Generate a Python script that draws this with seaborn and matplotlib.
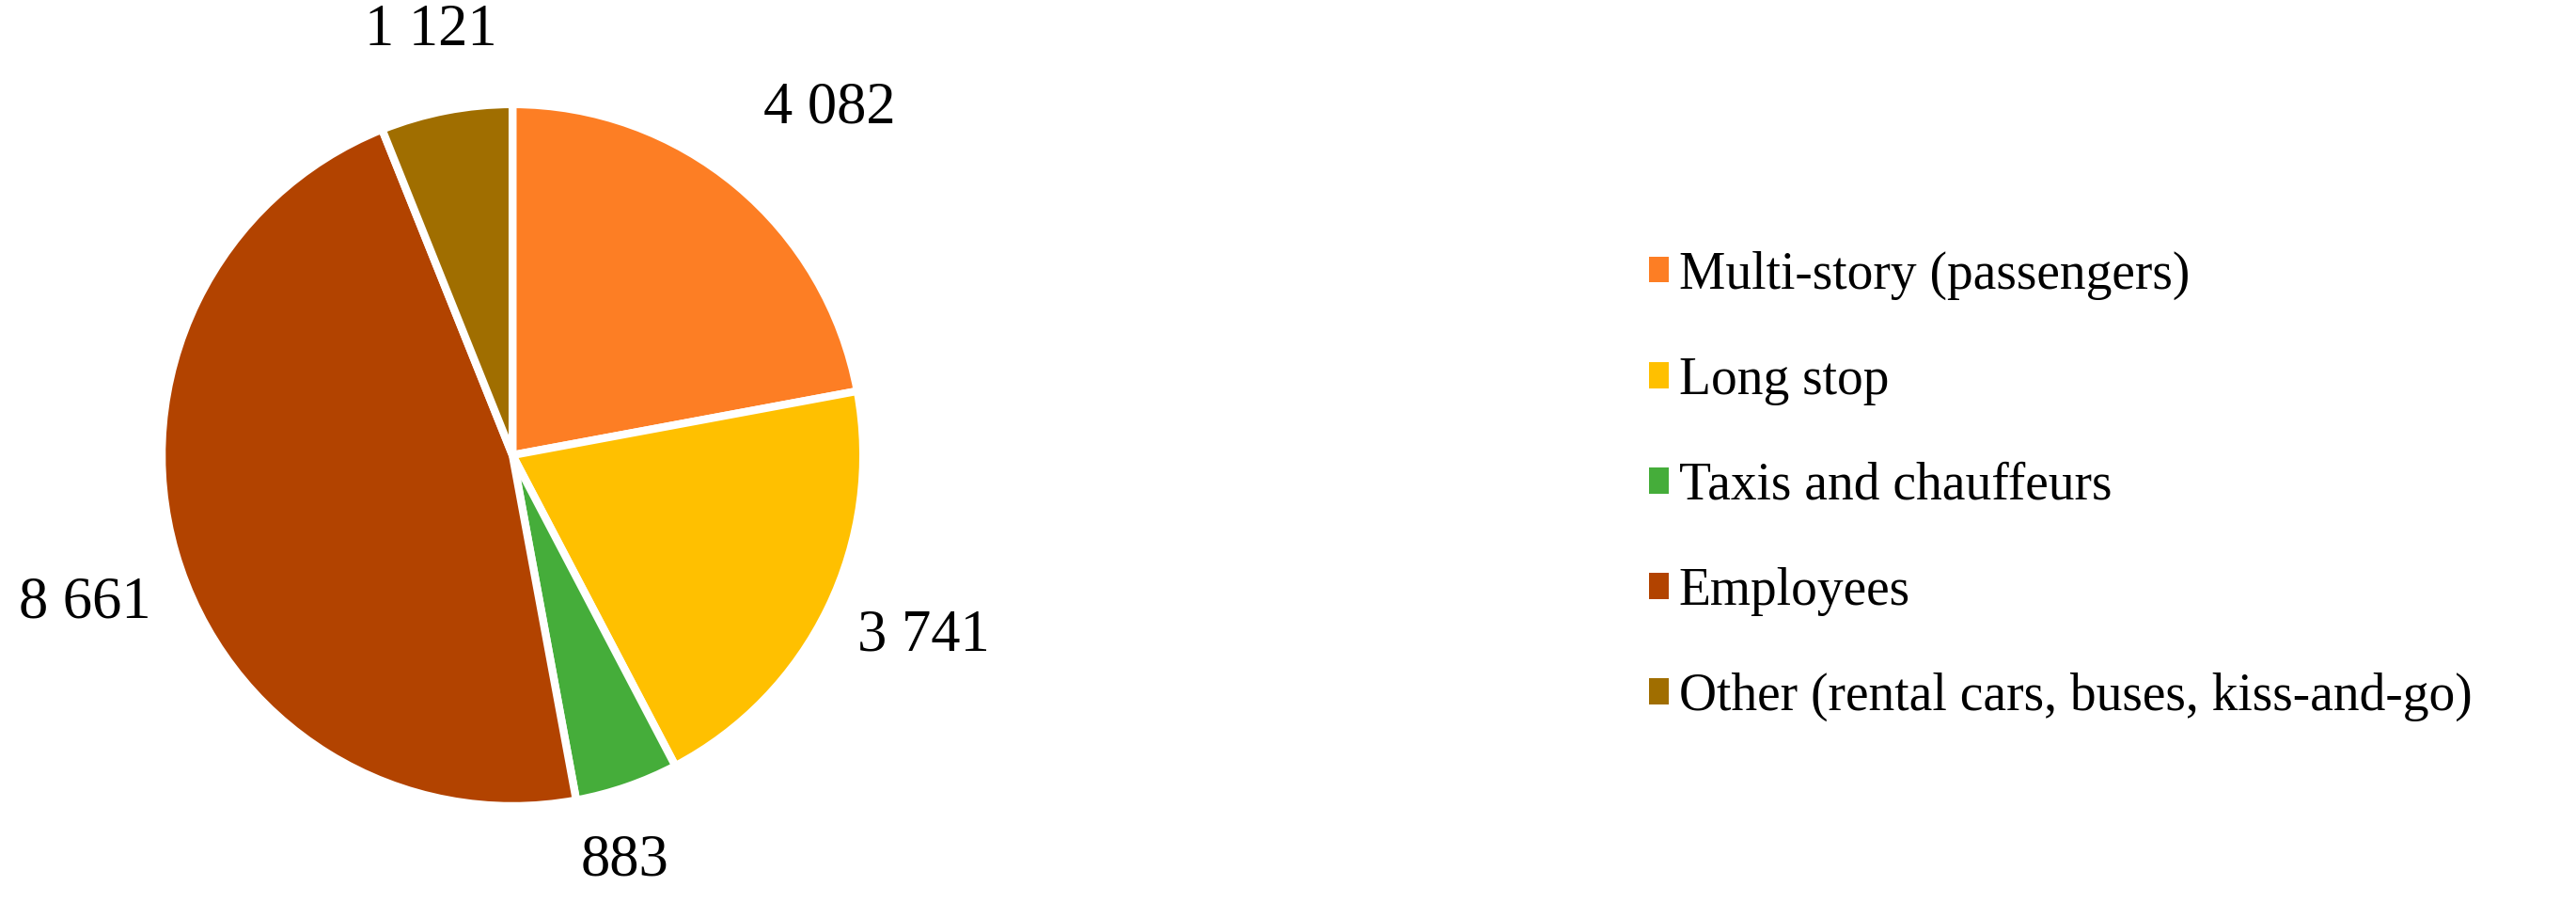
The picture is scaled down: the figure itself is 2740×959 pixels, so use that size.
import numpy as np
import seaborn as sns
import matplotlib.pyplot as plt

sns.set_theme(style="white")
plt.rcParams['font.family'] = ['Liberation Serif', 'DejaVu Serif']

# parking demand by category
categories = ['Multi-story (passengers)', 'Long stop', 'Taxis and chauffeurs',
              'Employees', 'Other (rental cars, buses, kiss-and-go)']
values = [4082, 3741, 883, 8661, 1121]
value_labels = ['4 082', '3 741', '883', '8 661', '1 121']

cols = sns.color_palette(['#FD7E24', '#FFC000', '#45AD3A', '#B24300', '#A06E00'])
# label placement: distance (pie radii) and angle nudge (deg) from wedge middle
label_dist = [1.34, 1.28, 1.20, 1.29, 1.23]
label_nudge = [-2.75, 2.1, -3.6, 2.9, 0.0]

fig = plt.figure(figsize=(27.4, 9.59), dpi=100)
ax = fig.add_axes([0.0628, 0.1064, 0.2723, 0.778])

wedges, texts = ax.pie(values, labels=value_labels, colors=cols, startangle=90,
                       counterclock=False,
                       wedgeprops=dict(edgecolor='white', linewidth=6),
                       textprops=dict(fontsize=45, color='black'))
for w, t, d, n in zip(wedges, texts, label_dist, label_nudge):
    ang = np.deg2rad((w.theta1 + w.theta2) / 2 + n)
    t.set_position((d * np.cos(ang), d * np.sin(ang)))
    t.set_horizontalalignment('center')
    t.set_verticalalignment('center')
ax.set_xlim(-1, 1)
ax.set_ylim(-1, 1)
ax.set_aspect('equal')

leg = fig.legend(wedges, categories, loc='center left', bbox_to_anchor=(0.640, 0.461),
                 frameon=False, fontsize=40, labelcolor='black',
                 handlelength=0.38, handleheight=0.38,
                 handletextpad=0.2, labelspacing=1.08, borderpad=0, borderaxespad=0)
for h in leg.legend_handles:
    h.set_linewidth(0)

plt.savefig('out.png', dpi=100)
